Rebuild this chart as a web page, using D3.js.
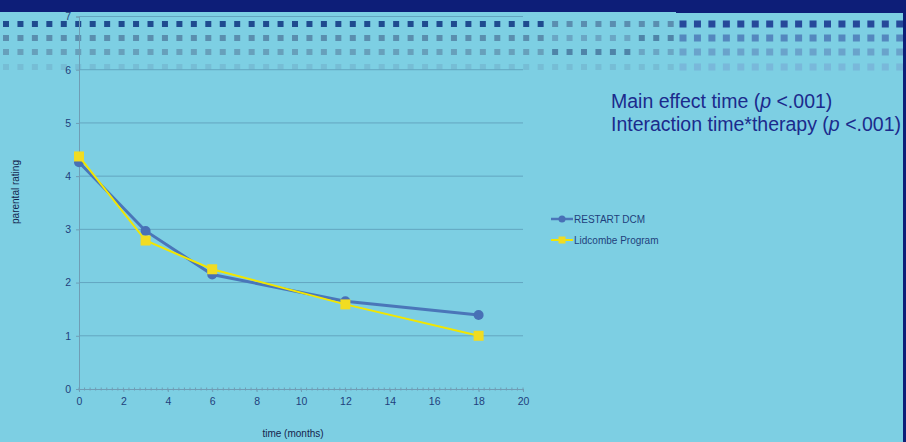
<!DOCTYPE html>
<html>
<head>
<meta charset="utf-8">
<script src="https://cdn.jsdelivr.net/npm/d3@7"></script>
<style>
  html, body { margin: 0; padding: 0; background: #7dcfe3; }
  svg { display: block; font-family: "Liberation Sans", Arial, sans-serif; }
</style>
</head>
<body>
<svg id="chart" width="906" height="442"></svg>
<script>
// chart values
var months = [0, 3, 6, 12, 18];
var restartDCM = [4.26, 2.97, 2.15, 1.65, 1.39];
var lidcombe = [4.37, 2.79, 2.25, 1.59, 1.00];
var seriesNames = ["RESTART DCM", "Lidcombe Program"];
var xTicks = [0, 2, 4, 6, 8, 10, 12, 14, 16, 18, 20];
var yTicks = [0, 1, 2, 3, 4, 5, 6, 7];
var notes = ["Main effect time (", "Interaction time*therapy ("];

var svg = d3.select("#chart");

svg.append("rect").attr("width", 906).attr("height", 442).attr("fill", "#7dcfe3");

// slide template decoration: navy band + rows of squares
var deco = svg.append("g");
deco.append("rect").attr("x", 0).attr("y", 0).attr("width", 906).attr("height", 12).attr("fill", "#0d1e78");
var rowY = [24, 38, 52, 67];
var leftCols = ["#1f4b8f", "#5a8eae", "#67a0bb", "#76bdd5"];
var rightCols = ["#26499a", "#5487be", "#6aa3cb", "#79b8da"];
for (var r = 0; r < 4; r++) {
  for (var i = 0; i < 47; i++) {
    var cx = 6 + i * 14.45;
    var col = leftCols[r];
    if (cx > 548) {
      // middle stretch has shuffled shades
      if (r === 0) col = "#5a8eb0";
      else if (r === 1) col = cx > 640 ? "#4f84a8" : "#6aa6c4";
      else if (r === 2) col = cx < 640 ? "#4f84a8" : "#6aa6c4";
    }
    deco.append("rect").attr("x", cx - 3).attr("y", rowY[r] - 3).attr("width", 6).attr("height", 6).attr("fill", col);
  }
  for (var j = 0; j < 16; j++) {
    var cx2 = 683 + j * 14.45;
    deco.append("rect").attr("x", cx2 - 3.5).attr("y", rowY[r] - 3.5).attr("width", 7).attr("height", 7).attr("fill", rightCols[r]);
  }
}
deco.append("rect").attr("x", 676).attr("y", 0).attr("width", 230).attr("height", 13).attr("fill", "#0d1e78");

// scales
var x = d3.scaleLinear().domain([0, 20]).range([79, 523]);
var y = d3.scaleLinear().domain([0, 7]).range([389, 16.5]);

var g = svg.append("g");

// gridlines
g.selectAll(".grid").data(yTicks.filter(function(d) { return d > 0; }))
  .enter().append("line")
  .attr("x1", x(0)).attr("x2", x(20))
  .attr("y1", function(d) { return y(d); }).attr("y2", function(d) { return y(d); })
  .attr("stroke", "#63a6c0").attr("stroke-width", 1);

// y axis
var yAxis = d3.axisLeft(y).tickValues(yTicks).tickSize(3).tickPadding(5).tickFormat(d3.format("d"));
var ya = g.append("g").attr("transform", "translate(" + x(0) + ",0)").call(yAxis);
ya.select(".domain").attr("stroke", "#6f9db5");
ya.selectAll(".tick line").attr("stroke", "#6f9db5");
ya.selectAll("text").attr("fill", "#1f3f7c").style("font-size", "10.5px");

// x axis with minor ticks
var minor = d3.range(0, 20.01, 0.25);
g.append("g").selectAll("line").data(minor).enter().append("line")
  .attr("x1", function(d) { return x(d); }).attr("x2", function(d) { return x(d); })
  .attr("y1", y(0) - 1.5).attr("y2", y(0) + 1.5)
  .attr("stroke", "#6f9db5");
var xAxis = d3.axisBottom(x).tickValues(xTicks).tickSize(3).tickPadding(6).tickFormat(d3.format("d"));
var xa = g.append("g").attr("transform", "translate(0," + y(0) + ")").call(xAxis);
xa.select(".domain").attr("stroke", "#6f9db5");
xa.selectAll(".tick line").attr("stroke", "#6f9db5");
xa.selectAll("text").attr("fill", "#1f3f7c").style("font-size", "10.5px");

// axis titles
g.append("text").attr("x", 293).attr("y", 437).attr("text-anchor", "middle")
  .attr("fill", "#14254d").style("font-size", "10px").style("font-stretch", "condensed")
  .text("time (months)");
g.append("text").attr("transform", "translate(19,192) rotate(-90)").attr("text-anchor", "middle")
  .attr("fill", "#14254d").style("font-size", "10px")
  .text("parental rating");

// series
var line = d3.line().x(function(d) { return x(d[0]); }).y(function(d) { return y(d[1]); });
var blueData = d3.zip(months, restartDCM);
var yellowData = d3.zip(months, lidcombe);

g.append("path").datum(blueData).attr("d", line).attr("fill", "none")
  .attr("stroke", "#4a76b9").attr("stroke-width", 3);
g.selectAll(".dot").data(blueData).enter().append("circle")
  .attr("cx", function(d) { return x(d[0]); }).attr("cy", function(d) { return y(d[1]); })
  .attr("r", 5).attr("fill", "#4870b6");

g.append("path").datum(yellowData).attr("d", line).attr("fill", "none")
  .attr("stroke", "#f2e600").attr("stroke-width", 2);
g.selectAll(".sq").data(yellowData).enter().append("rect")
  .attr("x", function(d) { return x(d[0]) - 5; }).attr("y", function(d) { return y(d[1]) - 5; })
  .attr("width", 10).attr("height", 10).attr("fill", "#f1dc22");

// legend
var leg = g.append("g");
seriesNames.forEach(function(name, i) {
  var ly = 219 + i * 21;
  leg.append("line").attr("x1", 551).attr("x2", 573).attr("y1", ly).attr("y2", ly)
    .attr("stroke", i === 0 ? "#4a76b9" : "#f2e600").attr("stroke-width", i === 0 ? 2.5 : 2);
  if (i === 0) leg.append("circle").attr("cx", 562).attr("cy", ly).attr("r", 3.5).attr("fill", "#4870b6");
  else leg.append("rect").attr("x", 558.5).attr("y", ly - 3.5).attr("width", 7).attr("height", 7).attr("fill", "#f1dc22");
  leg.append("text").attr("x", 574).attr("y", ly + 3.5).attr("fill", "#1f3f7c")
    .style("font-size", "10px").style("font-stretch", "condensed").text(name);
});

// annotation
var ann = svg.append("g");
notes.forEach(function(n, i) {
  var t = ann.append("text").attr("x", 611).attr("y", 107.5 + i * 23.5)
    .attr("fill", "#1b2a8c").style("font-size", "19.5px");
  t.append("tspan").text(n);
  t.append("tspan").style("font-style", "italic").text("p");
  t.append("tspan").text(" <.001)");
});
// the template's right strip covers the end of the text
svg.append("rect").attr("x", 903).attr("y", 0).attr("width", 3).attr("height", 442).attr("fill", "#0d1e78");
</script>
</body>
</html>
